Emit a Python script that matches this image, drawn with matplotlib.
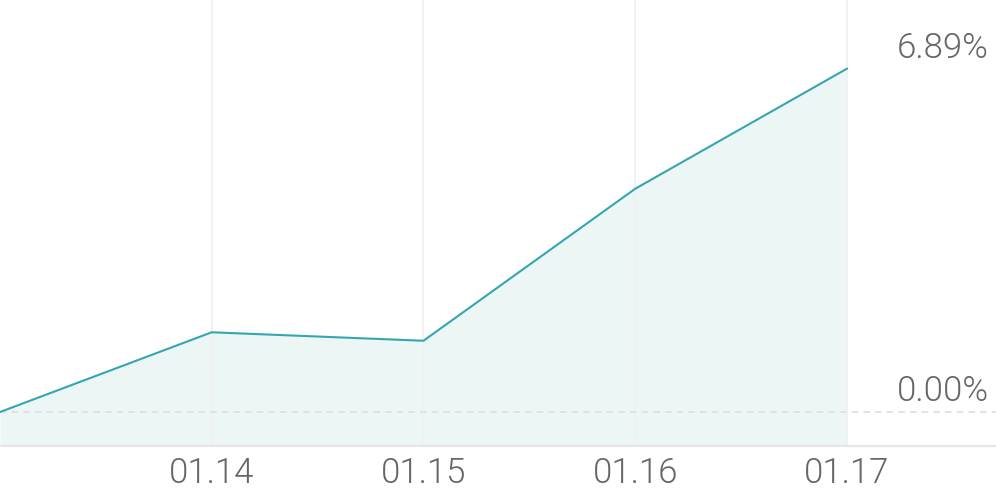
import matplotlib.pyplot as plt
import matplotlib.transforms as mtransforms

# data
dates = ["01.13", "01.14", "01.15", "01.16", "01.17"]
returns = [0.0, 1.60, 1.43, 4.48, 6.89]
tick_labels = ["01.14", "01.15", "01.16", "01.17"]

plt.rcParams['font.family'] = ['Roboto', 'DejaVu Sans']

W, H = 996, 490
fig = plt.figure(figsize=(W / 100, H / 100), dpi=100)
# axes ends at the grey bottom line, labels hang below it
ax = fig.add_axes([0, 44.5 / H, 1, 445.5 / H])

xs = list(range(len(dates)))
ymin, ymax = -0.672, 8.268
ax.set_xlim(0, 4.704)
ax.set_ylim(ymin, ymax)

ax.fill_between(xs, returns, ymin, color="#ecf6f5", lw=0, zorder=1)
ax.plot(xs, returns, color="#35a6b0", lw=1.5, zorder=3, solid_joinstyle="miter")

ax.axhline(0, color="#dedede", lw=1.2, ls=(0, (4, 3)), zorder=2)

ax.set_xticks(xs[1:])
ax.set_xticklabels(tick_labels)
ax.tick_params(axis="x", length=0, pad=8, labelsize=25, labelcolor="#666666")
for lab in ax.get_xticklabels():
    lab.set_fontweight(300)  # Roboto-Light
ax.set_yticks([])
ax.grid(axis="x", color="#f1f1f1", lw=1.5, zorder=0)

for s in ["top", "left", "right"]:
    ax.spines[s].set_visible(False)
ax.spines["bottom"].set_color("#e6e6e6")
ax.spines["bottom"].set_linewidth(1.6)

trans = mtransforms.blended_transform_factory(ax.transAxes, ax.transData)
for v in [returns[-1], 0.0]:
    ax.annotate(f"{v:.2f}%", xy=(0.993, v), xycoords=trans,
                xytext=(0, 3), textcoords="offset points",
                ha="right", va="bottom", fontsize=25, color="#666666",
                fontweight=300)

fig.savefig("out.png", dpi=100)
